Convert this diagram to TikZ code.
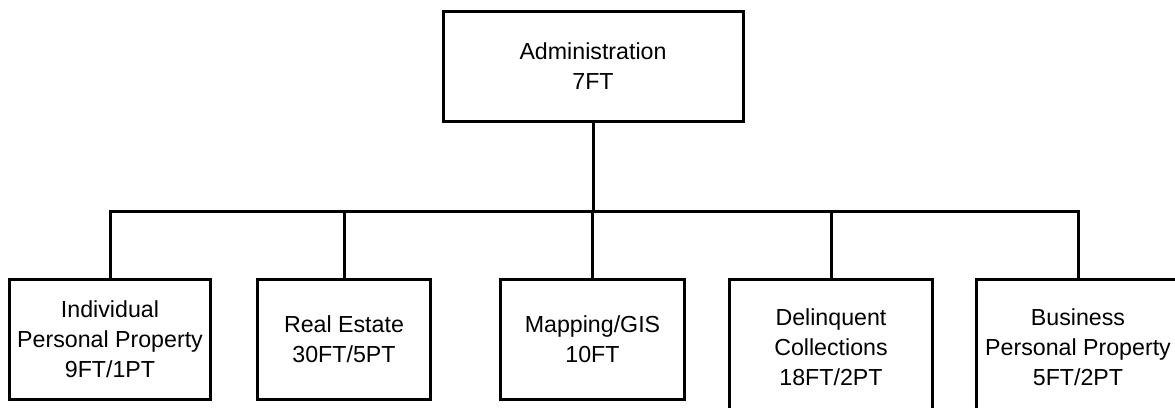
\documentclass[tikz,border=0pt]{standalone}
\usepackage{fontspec}
\setmainfont{Liberation Sans}
\begin{document}
\begin{tikzpicture}[x=1pt,y=-1pt,
  orgbox/.style={draw=black, line width=3pt, fill=white, align=center, inner sep=0pt,
    font=\fontsize{23.2}{30}\selectfont, text=black},
  link/.style={draw=black, line width=3pt}]
\useasboundingbox (0,0) rectangle (1175,407);
\fill[white] (0,0) rectangle (1175,407);
\node[orgbox, minimum width=300pt, minimum height=110pt] (admin) at (593,66) {Administration\\7FT};
\node[orgbox, minimum width=201pt, minimum height=120pt] (b1) at (110,339) {Individual\\Personal Property\\9FT/1PT};
\node[orgbox, minimum width=173pt, minimum height=120pt] (b2) at (344,339) {Real Estate\\30FT/5PT};
\node[orgbox, minimum width=184pt, minimum height=120pt] (b3) at (592.5,339) {Mapping/GIS\\10FT};
\node[orgbox, minimum width=203pt, minimum height=136pt] (b4) at (831,347) {Delinquent\\Collections\\18FT/2PT};
\node[orgbox, minimum width=204pt, minimum height=136pt] (b5) at (1078,347) {Business\\Personal Property\\5FT/2PT};
\coordinate (bus) at (593,211);
\draw[link] (admin.south) -- (bus);
\draw[link, line cap=rect] (b1.north |- bus) -- (b5.north |- bus);
\foreach \b in {b1,b2,b3,b4,b5} {
  \draw[link] (\b.north) -- (\b.north |- bus);
}
\end{tikzpicture}
\end{document}
